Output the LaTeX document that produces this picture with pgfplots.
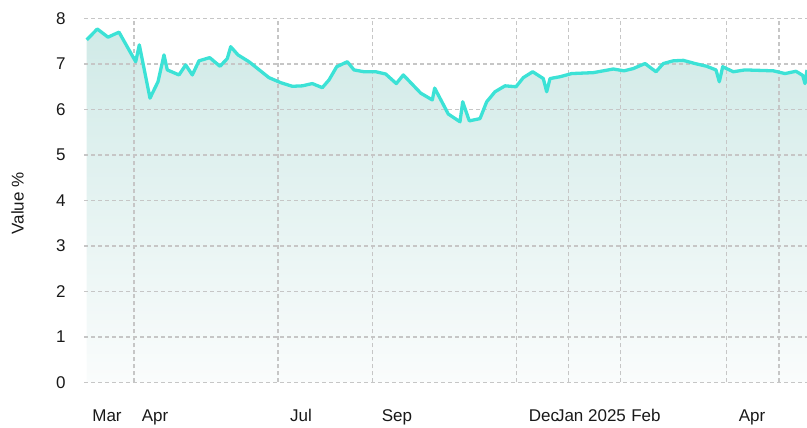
\documentclass[border=0pt]{standalone}
\usepackage{pgfplots}
\pgfplotsset{compat=1.18}
\usepackage{fontspec}
\setmainfont{Liberation Sans}
\definecolor{linec}{RGB}{60,226,214}
\definecolor{filltop}{RGB}{208,234,231}
\definecolor{fillbot}{RGB}{250,252,252}
\definecolor{gridc}{RGB}{198,198,198}
\definecolor{txt}{RGB}{25,25,25}
\begin{document}
\begin{tikzpicture}
\begin{axis}[
  set layers,
  at={(84pt,45.5pt)}, anchor=south west,
  scale only axis, width=723pt, height=364pt,
  xmin=84, xmax=807, ymin=0, ymax=8,
  axis line style={draw=none},
  major tick length=0pt,
  ytick={0,1,2,3,4,5,6,7,8},
  xtick={134,278,372.3,516.7,568.3,620.7,726.7,779},
  xticklabels={},
  extra x ticks={107,155,301,397,544,591,646,752},
  extra x tick labels={Mar,Apr,Jul,Sep,Dec,Jan 2025,Feb,Apr},
  extra x tick style={grid=none},
  grid=major,
  major grid style={color=gridc, line width=1.2pt, dash pattern=on 4pt off 3pt},
  /pgf/number format/assume math mode=true,
  tick label style={font=\fontsize{17}{20}\selectfont, text=txt},
  yticklabel style={xshift=-15pt},
  xticklabel style={yshift=-23pt, text height=12.5pt, text depth=3.5pt},
  ylabel={Value \%},
  every axis y label/.style={at={(axis description cs:0,0.5)}, xshift=-66.5pt, yshift=-3pt, rotate=90, anchor=center, font=\fontsize{17}{20}\selectfont, text=txt},
  clip=true,
]
\addplot[on layer=axis background, draw=none, top color=filltop, bottom color=fillbot] coordinates {
(86.7,7.53)(97.3,7.77)(108,7.59)(119,7.70)(135.7,7.05)(139.3,7.42)(150,6.25)(158,6.61)(164,7.20)(167.3,6.87)
(179,6.76)(185.7,6.98)(192.3,6.76)(199,7.07)(209.7,7.14)(220,6.95)(227.3,7.12)(230.7,7.38)(238,7.20)(249,7.05)
(269,6.70)(280.7,6.59)(292.3,6.51)(302.3,6.52)(312.3,6.57)(322.3,6.48)(329,6.65)(336.7,6.94)(347.3,7.05)(354,6.87)
(364,6.83)(375.7,6.83)(385.7,6.78)(396.3,6.57)(403.3,6.76)(420.7,6.36)(432.3,6.21)(434.7,6.47)(448.3,5.90)
(460,5.73)(462.7,6.17)(469.3,5.75)(480,5.80)(486.7,6.17)(495,6.39)(505,6.52)(516,6.50)(523.3,6.70)(532.7,6.83)
(543.3,6.68)(546.7,6.39)(550,6.68)(560,6.72)(571.7,6.79)(593.3,6.81)(603.3,6.85)(613.3,6.89)(624,6.85)(633.3,6.90)
(645,7.01)(656,6.83)(663.3,7.01)(673.3,7.07)(683.3,7.08)(695,7.01)(706.7,6.95)(716,6.87)(719.3,6.61)(722.7,6.94)
(733.3,6.83)(745,6.87)(773.3,6.85)(785,6.79)(796,6.84)(802.7,6.75)(805,6.57)(807,6.87)
} \closedcycle;
\addplot[color=linec, line width=3.3pt, line join=round, mark=none] coordinates {
(86.7,7.53)(97.3,7.77)(108,7.59)(119,7.70)(135.7,7.05)(139.3,7.42)(150,6.25)(158,6.61)(164,7.20)(167.3,6.87)
(179,6.76)(185.7,6.98)(192.3,6.76)(199,7.07)(209.7,7.14)(220,6.95)(227.3,7.12)(230.7,7.38)(238,7.20)(249,7.05)
(269,6.70)(280.7,6.59)(292.3,6.51)(302.3,6.52)(312.3,6.57)(322.3,6.48)(329,6.65)(336.7,6.94)(347.3,7.05)(354,6.87)
(364,6.83)(375.7,6.83)(385.7,6.78)(396.3,6.57)(403.3,6.76)(420.7,6.36)(432.3,6.21)(434.7,6.47)(448.3,5.90)
(460,5.73)(462.7,6.17)(469.3,5.75)(480,5.80)(486.7,6.17)(495,6.39)(505,6.52)(516,6.50)(523.3,6.70)(532.7,6.83)
(543.3,6.68)(546.7,6.39)(550,6.68)(560,6.72)(571.7,6.79)(593.3,6.81)(603.3,6.85)(613.3,6.89)(624,6.85)(633.3,6.90)
(645,7.01)(656,6.83)(663.3,7.01)(673.3,7.07)(683.3,7.08)(695,7.01)(706.7,6.95)(716,6.87)(719.3,6.61)(722.7,6.94)
(733.3,6.83)(745,6.87)(773.3,6.85)(785,6.79)(796,6.84)(802.7,6.75)(805,6.57)(807,6.87)
};
\end{axis}
\pgfresetboundingbox
\path[use as bounding box] (0pt,0pt) rectangle (807pt,428pt);
\end{tikzpicture}
\end{document}
